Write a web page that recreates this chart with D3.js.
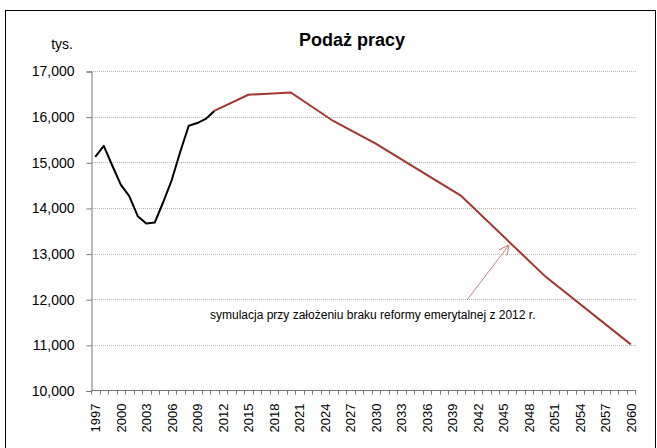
<!DOCTYPE html>
<html lang="pl">
<head>
    <meta charset="UTF-8">
    <title>Podaż pracy</title>
    <script src="https://d3js.org/d3.v7.min.js"></script>
    <style>
        body {
            margin: 0;
            background: #fff;
            font-family: "Liberation Sans", Arial, sans-serif;
        }
        .grid line {
            stroke: #b8b8b8;
            stroke-dasharray: 1,1;
        }
        .axis path, .axis line {
            stroke: #777;
        }
        .axis text {
            fill: #000;
            font-family: "Liberation Sans", Arial, sans-serif;
        }
    </style>
</head>
<body>
    <div id="chart"></div>
    <script>
        // categories: years on the x axis
        const years = d3.range(1997, 2061);
        // every third year gets a label
        const tickLabels = ["1997", "2000", "2003", "2006", "2009", "2012", "2015", "2018", "2021", "2024",
            "2027", "2030", "2033", "2036", "2039", "2042", "2045", "2048", "2051", "2054", "2057", "2060"];
        const yTicks = [10000, 11000, 12000, 13000, 14000, 15000, 16000, 17000];

        // historical labour supply (black)
        const histYears = [1997, 1998, 1999, 2000, 2001, 2002, 2003, 2004, 2005, 2006, 2007, 2008, 2009, 2010, 2011];
        const histValues = [15120, 15360, 14930, 14510, 14260, 13820, 13660, 13680, 14130, 14610, 15230, 15800, 15860, 15950, 16125];

        // simulation without the 2012 pension reform (red)
        const simYears = [2011, 2015, 2020, 2025, 2030, 2040, 2050, 2060];
        const simValues = [16125, 16480, 16530, 15905, 15410, 14270, 12490, 11010];

        const W = 657, H = 448;
        const svg = d3.select("#chart").append("svg")
            .attr("width", W)
            .attr("height", H);

        // outer frame (bottom edge falls outside the picture)
        svg.append("rect")
            .attr("x", 5.5).attr("y", 10.5)
            .attr("width", 650).attr("height", 445)
            .attr("fill", "none")
            .attr("stroke", "#000")
            .attr("stroke-width", 1);

        const x = d3.scaleBand()
            .domain(years)
            .range([91, 635])
            .padding(0);

        const y = d3.scaleLinear()
            .domain([10000, 17000])
            .range([390.5, 71]);

        const cx = d => x(d) + x.bandwidth() / 2;

        // gridlines
        svg.append("g")
            .attr("class", "grid")
            .selectAll("line")
            .data(yTicks.slice(1))
            .enter()
            .append("line")
            .attr("x1", 91).attr("x2", 636)
            .attr("y1", d => Math.round(y(d)) + 0.5)
            .attr("y2", d => Math.round(y(d)) + 0.5);

        // y axis
        const yAxis = svg.append("g")
            .attr("class", "axis")
            .attr("transform", "translate(91.5,0.5)")
            .call(d3.axisLeft(y).tickValues(yTicks).tickSize(5).tickPadding(12).tickFormat(d3.format(",")));
        yAxis.selectAll("text").style("font-size", "14px");

        // x axis: ticks between categories, labels every third year
        const xAxis = svg.append("g")
            .attr("class", "axis")
            .attr("transform", "translate(0,390.5)");
        xAxis.append("line")
            .attr("x1", 91).attr("x2", 635.5)
            .attr("y1", 0).attr("y2", 0);
        xAxis.selectAll(".tick-mark")
            .data(years.concat([2061]))
            .enter()
            .append("line")
            .attr("class", "tick-mark")
            .attr("x1", d => Math.round(d === 2061 ? x.range()[1] : x(d)) + 0.5)
            .attr("x2", d => Math.round(d === 2061 ? x.range()[1] : x(d)) + 0.5)
            .attr("y1", 0).attr("y2", 4);
        xAxis.selectAll(".lbl")
            .data(tickLabels)
            .enter()
            .append("text")
            .attr("class", "lbl")
            .attr("transform", d => `translate(${cx(+d) + 5},13) rotate(-90)`)
            .attr("text-anchor", "end")
            .style("font-size", "13px")
            .text(d => d);

        const line = d3.line()
            .x(d => cx(d[0]))
            .y(d => y(d[1]));

        svg.append("path")
            .datum(simYears.map((yr, i) => [yr, simValues[i]]))
            .attr("fill", "none")
            .attr("stroke", "#a5352f")
            .attr("stroke-width", 2)
            .attr("d", line);

        svg.append("path")
            .datum(histYears.map((yr, i) => [yr, histValues[i]]))
            .attr("fill", "none")
            .attr("stroke", "#000")
            .attr("stroke-width", 2)
            .attr("stroke-linejoin", "round")
            .attr("d", line);

        // title and unit
        svg.append("text")
            .attr("x", 352).attr("y", 46)
            .attr("text-anchor", "middle")
            .style("font-size", "18px")
            .style("font-weight", "bold")
            .text("Podaż pracy");

        svg.append("text")
            .attr("x", 73).attr("y", 49)
            .attr("text-anchor", "end")
            .style("font-size", "14px")
            .text("tys.");

        // annotation with arrow
        svg.append("defs").append("marker")
            .attr("id", "arrow")
            .attr("viewBox", "0 0 10 10")
            .attr("refX", 10).attr("refY", 5)
            .attr("markerWidth", 10).attr("markerHeight", 10)
            .attr("markerUnits", "userSpaceOnUse")
            .attr("orient", "auto")
            .append("path")
            .attr("d", "M0,0 L10,5 L0,10")
            .attr("fill", "none")
            .attr("stroke", "#c8807c")
            .attr("stroke-width", 1);

        svg.append("line")
            .attr("x1", 467).attr("y1", 300)
            .attr("x2", 509).attr("y2", 245)
            .attr("stroke", "#c8807c")
            .attr("stroke-width", 1)
            .attr("marker-end", "url(#arrow)");

        svg.append("text")
            .attr("x", 210).attr("y", 319)
            .style("font-size", "12px")
            .text("symulacja przy założeniu braku reformy emerytalnej z 2012 r.");
    </script>
</body>
</html>
